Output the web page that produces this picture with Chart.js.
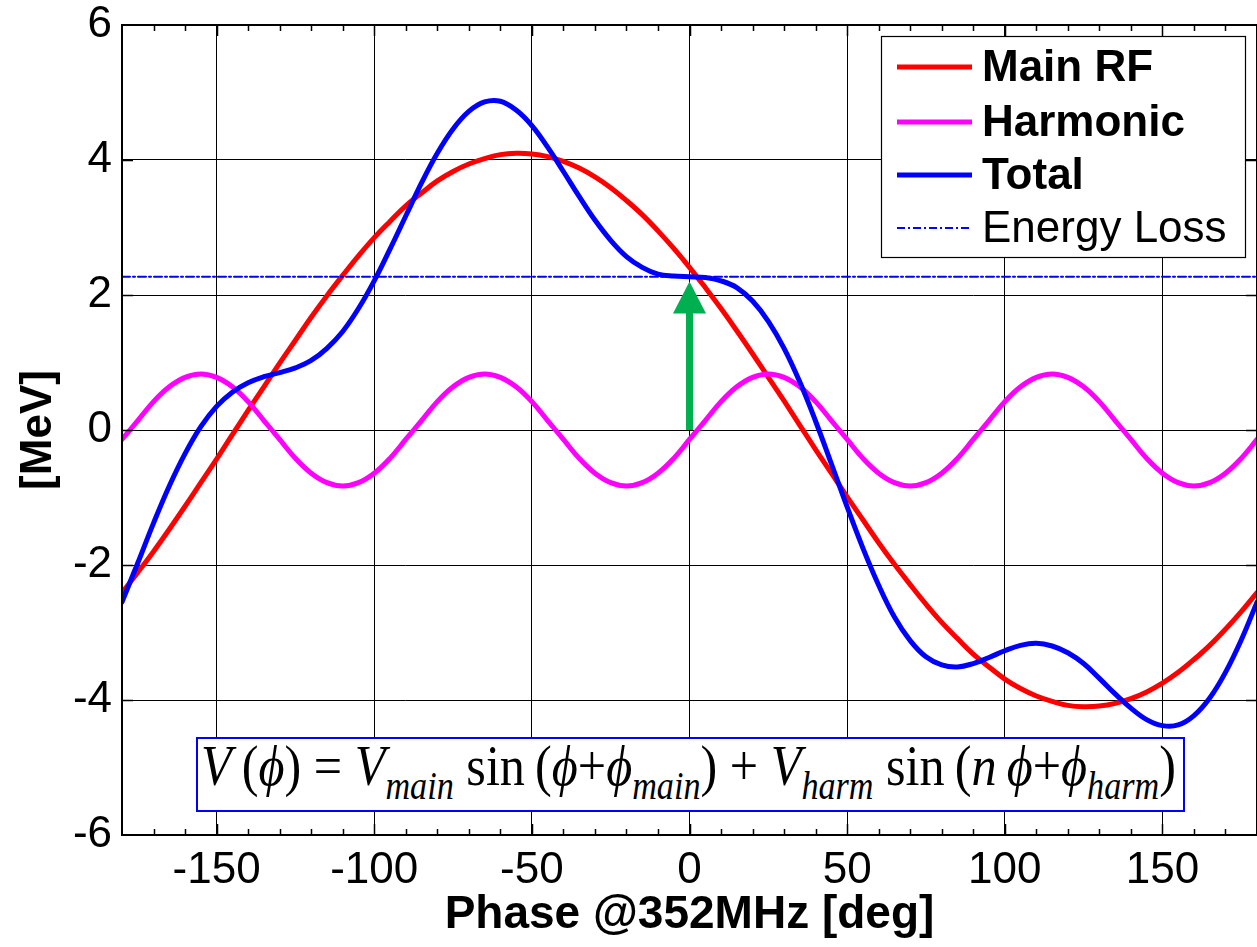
<!DOCTYPE html>
<html>
<head>
<meta charset="utf-8">
<script src="https://cdn.jsdelivr.net/npm/chart.js@4.4.0/dist/chart.umd.min.js"></script>
<style>
  html, body { margin: 0; padding: 0; background: #fff; }
  #wrap { position: relative; width: 1257px; height: 947px; overflow: hidden; }
  #formula {
    position: absolute; left: 196px; top: 737px; width: 989px; height: 75px;
    box-sizing: border-box; border: 2px solid #0000ff; background: #fff; overflow: hidden;
  }
  #ftext {
    position: absolute; left: 3px; top: -2px; white-space: nowrap;
    font-family: "Liberation Serif", "Times New Roman", serif; font-size: 58px; line-height: 58px;
    transform-origin: 0 0; color: #000;
  }
  #ftext sub { font-size: 0.68em; vertical-align: -14px; line-height: 0; font-style: italic; }
</style>
</head>
<body>
<div id="wrap">
  <canvas id="chart" width="1257" height="947"></canvas>
  <div id="formula"><span id="ftext"><i>V</i>&#8201;(<i>ϕ</i>) = <i>V</i><sub>main</sub> sin&#8201;(<i>ϕ</i>+<i>ϕ</i><sub>main</sub>) + <i>V</i><sub>harm</sub> sin&#8201;(<i>n</i>&#8201;<i>ϕ</i>+<i>ϕ</i><sub>harm</sub>)</span></div>
</div>
<script>
// RF voltage vs phase - main cavity, 4th harmonic and their sum

const phaseDeg = [-180,-175,-170,-165,-160,-155,-150,-145,-140,-135,-130,-125,-120,-115,-110,-105,-100,-95,-90,-85,
  -80,-75,-70,-65,-60,-55,-50,-45,-40,-35,-30,-25,-20,-15,-10,-5,0,5,10,15,20,25,30,35,40,45,50,55,60,65,70,75,
  80,85,90,95,100,105,110,115,120,125,130,135,140,145,150,155,160,165,170,175,180];

const mainRF = [-2.41,-2.11,-1.80,-1.47,-1.13,-0.78,-0.43,-0.07,0.29,0.64,
  0.99,1.33,1.67,1.99,2.29,2.58,2.85,3.09,3.32,3.51,
  3.69,3.83,3.94,4.02,4.08,4.10,4.09,4.05,3.98,3.88,
  3.75,3.59,3.40,3.19,2.95,2.69,2.41,2.11,1.80,1.47,
  1.13,0.78,0.43,0.07,-0.29,-0.64,-0.99,-1.33,-1.67,-1.99,
  -2.29,-2.58,-2.85,-3.09,-3.32,-3.51,-3.69,-3.83,-3.94,-4.02,
  -4.08,-4.10,-4.09,-4.05,-3.98,-3.88,-3.75,-3.59,-3.40,-3.19,
  -2.95,-2.69,-2.41];

const harmonic = [-0.14,0.14,0.42,0.64,0.78,0.83,0.78,0.64,0.42,0.14,-0.14,-0.42,-0.64,-0.78,-0.83,-0.78,-0.64,-0.42,
  -0.14,0.14,0.42,0.64,0.78,0.83,0.78,0.64,0.42,0.14,-0.14,-0.42,-0.64,-0.78,-0.83,-0.78,-0.64,-0.42,
  -0.14,0.14,0.42,0.64,0.78,0.83,0.78,0.64,0.42,0.14,-0.14,-0.42,-0.64,-0.78,-0.83,-0.78,-0.64,-0.42,
  -0.14,0.14,0.42,0.64,0.78,0.83,0.78,0.64,0.42,0.14,-0.14,-0.42,-0.64,-0.78,-0.83,-0.78,-0.64,-0.42,
  -0.14];

const total = [-2.55,-1.97,-1.38,-0.83,-0.35,0.05,0.35,0.56,0.70,0.79,
  0.85,0.92,1.03,1.21,1.46,1.80,2.21,2.68,3.17,3.66,
  4.10,4.46,4.72,4.86,4.87,4.74,4.51,4.19,3.83,3.46,
  3.11,2.81,2.57,2.41,2.31,2.28,2.27,2.26,2.21,2.11,
  1.91,1.61,1.21,0.71,0.13,-0.50,-1.14,-1.75,-2.30,-2.77,
  -3.12,-3.36,-3.48,-3.51,-3.46,-3.37,-3.27,-3.19,-3.16,-3.20,
  -3.30,-3.46,-3.68,-3.91,-4.12,-4.29,-4.38,-4.37,-4.23,-3.97,
  -3.59,-3.11,-2.55];

const energyLossPhase = [-180, 180];
const energyLoss = [2.27, 2.27];

// green arrow: synchronous phase, from 0 up to the energy loss level
const arrowPhase = 0;
const arrowFrom = 0;
const arrowTo = 2.2;

const seriesLabels = ['Main RF', 'Harmonic', 'Total', 'Energy Loss'];
const seriesColors = ['#ff0000', '#ff00ff', '#0000ff', '#0000ff'];

const SANS = '"Liberation Sans", Arial, Helvetica, sans-serif';

function pts(xs, ys) {
  return xs.map((x, i) => ({ x, y: ys[i] }));
}

// frame, inward ticks (major + 10deg minor on x), arrow and legend
const decorPlugin = {
  id: 'decor',
  beforeDatasetsDraw(chart) {
    const { ctx, scales: { x, y } } = chart;
    const px = x.getPixelForValue(arrowPhase);
    const y0 = y.getPixelForValue(arrowFrom);
    const y1 = y.getPixelForValue(arrowTo);
    const headLen = 32, headHalf = 16.5, shaft = 7;
    ctx.save();
    ctx.fillStyle = '#00b050';
    ctx.fillRect(px - shaft / 2, y1 + headLen - 1, shaft, y0 - (y1 + headLen - 1));
    ctx.beginPath();
    ctx.moveTo(px, y1);
    ctx.lineTo(px - headHalf, y1 + headLen);
    ctx.lineTo(px + headHalf, y1 + headLen);
    ctx.closePath();
    ctx.fill();
    ctx.restore();
  },
  afterDatasetsDraw(chart) {
    const { ctx, chartArea: a, scales: { x, y } } = chart;
    ctx.save();
    ctx.strokeStyle = '#000';
    ctx.lineWidth = 1.5;
    ctx.beginPath();
    for (let v = -170; v <= 170; v += 10) {
      const p = Math.round(x.getPixelForValue(v)) + 0.5;
      const len = v % 50 === 0 ? 11 : 6;
      ctx.moveTo(p, a.bottom); ctx.lineTo(p, a.bottom - len);
      ctx.moveTo(p, a.top); ctx.lineTo(p, a.top + len);
    }
    for (let v = -4; v <= 4; v += 2) {
      const p = Math.round(y.getPixelForValue(v)) + 0.5;
      ctx.moveTo(a.left, p); ctx.lineTo(a.left + 11, p);
      ctx.moveTo(a.right, p); ctx.lineTo(a.right - 11, p);
    }
    ctx.stroke();
    ctx.lineWidth = 2;
    ctx.strokeRect(a.left, a.top, a.right - a.left, a.bottom - a.top);

    // legend box
    const bw = 364, bh = 221;
    const bx = a.right - 12 - bw, by = a.top + 11;
    ctx.fillStyle = '#fff';
    ctx.fillRect(bx, by, bw, bh);
    ctx.lineWidth = 1.2;
    ctx.strokeRect(bx + 0.5, by + 0.5, bw, bh);
    const rowY = [31, 86, 139, 192];
    seriesLabels.forEach((lab, i) => {
      const ly = by + rowY[i];
      ctx.beginPath();
      ctx.strokeStyle = seriesColors[i];
      if (i === 3) { ctx.lineWidth = 2; ctx.setLineDash([8, 3, 2, 3]); }
      else { ctx.lineWidth = 5; ctx.setLineDash([]); }
      ctx.moveTo(bx + 16, ly); ctx.lineTo(bx + 91, ly);
      ctx.stroke();
      ctx.setLineDash([]);
      ctx.fillStyle = '#000';
      ctx.font = (i === 3 ? '' : 'bold ') + '44px ' + SANS;
      ctx.textBaseline = 'middle';
      ctx.textAlign = 'left';
      ctx.fillText(lab, bx + 101, ly + 2);
    });
    ctx.restore();
  }
};

new Chart(document.getElementById('chart'), {
  type: 'line',
  data: {
    datasets: [
      { label: seriesLabels[3], data: pts(energyLossPhase, energyLoss), borderColor: seriesColors[3],
        borderWidth: 2, borderDash: [8, 3, 2, 3], tension: 0, order: 0 },
      { label: seriesLabels[2], data: pts(phaseDeg, total), borderColor: seriesColors[2],
        borderWidth: 5, tension: 0.4, order: 1 },
      { label: seriesLabels[1], data: pts(phaseDeg, harmonic), borderColor: seriesColors[1],
        borderWidth: 5, tension: 0.4, order: 2 },
      { label: seriesLabels[0], data: pts(phaseDeg, mainRF), borderColor: seriesColors[0],
        borderWidth: 5, tension: 0.4, order: 3 },
    ]
  },
  options: {
    responsive: false,
    animation: false,
    layout: { padding: { top: 25, right: -3, bottom: 0, left: 0 } },
    elements: { point: { radius: 0 }, line: { borderCapStyle: 'round', borderJoinStyle: 'round' } },
    plugins: { legend: { display: false }, tooltip: { enabled: false } },
    scales: {
      x: {
        type: 'linear', min: -180, max: 180,
        ticks: { stepSize: 50, includeBounds: false, autoSkip: false, maxRotation: 0, padding: 9,
          color: '#000', font: { family: SANS, size: 44 } },
        grid: { color: '#000', lineWidth: 1, drawTicks: false },
        border: { display: false },
        title: { display: true, text: 'Phase @352MHz [deg]', color: '#000',
          font: { family: SANS, size: 46, weight: 'bold' }, padding: { top: 0, bottom: 4 } },
        afterFit(s) { s.height = 112; s.paddingLeft = 0; s.paddingRight = 0; }
      },
      y: {
        min: -6, max: 6,
        ticks: { stepSize: 2, padding: 10, color: '#000', font: { family: SANS, size: 44 } },
        grid: { color: '#000', lineWidth: 1, drawTicks: false },
        border: { display: false },
        title: { display: true, text: '[MeV]', color: '#000',
          font: { family: SANS, size: 44, weight: 'bold' }, padding: { top: 12, bottom: 0 } },
        afterFit(s) { s.width = 122; s.paddingTop = 0; s.paddingBottom = 0; }
      }
    }
  },
  plugins: [decorPlugin]
});

// stretch the formula to the reference width
const ft = document.getElementById('ftext');
const w = ft.getBoundingClientRect().width;
ft.style.transform = 'scaleX(' + (975 / w).toFixed(4) + ')';
</script>
</body>
</html>
